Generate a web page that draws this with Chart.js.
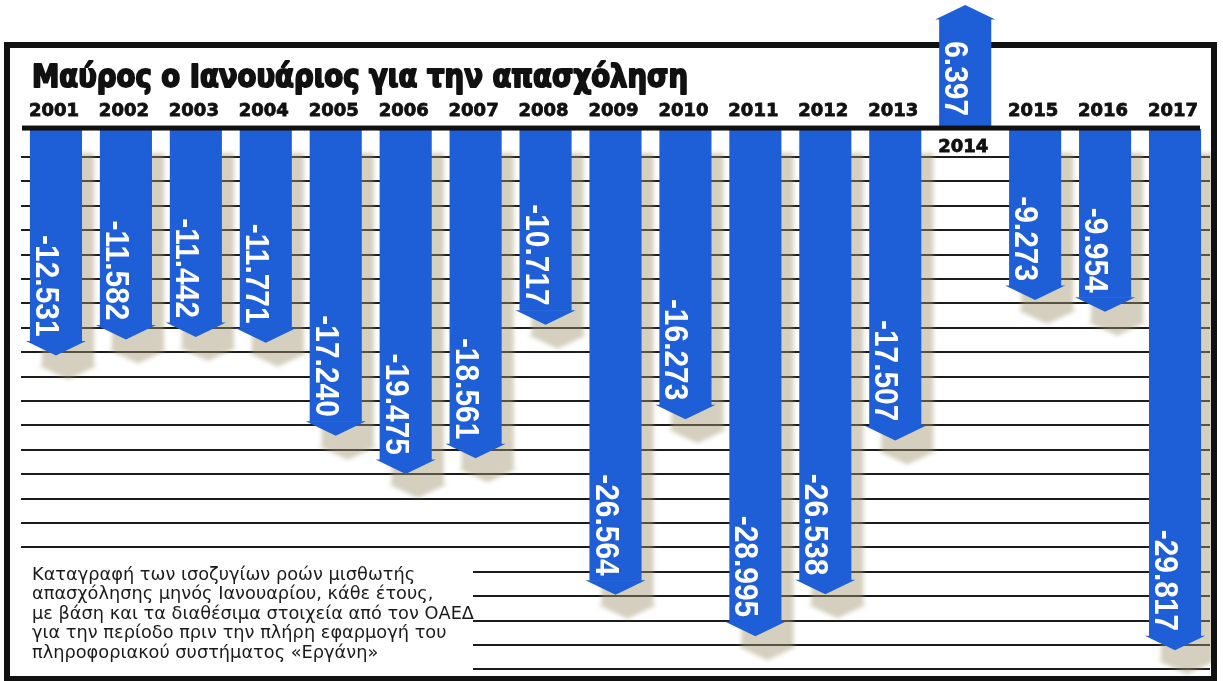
<!DOCTYPE html>
<html lang="el">
<head>
<meta charset="utf-8">
<title>Μαύρος ο Ιανουάριος για την απασχόληση</title>
<script src="https://cdn.jsdelivr.net/npm/chart.js@4.4.1/dist/chart.umd.min.js"></script>
<style>
  html, body { margin: 0; padding: 0; background: #fff; }
  #wrap { width: 1223px; height: 681px; position: relative; }
</style>
</head>
<body>
<div id="wrap"><canvas id="jobsChart"></canvas></div>
<script>
// ισοζύγιο ροών μισθωτής απασχόλησης Ιανουαρίου (χιλιάδες)
const years = ['2001', '2002', '2003', '2004', '2005', '2006', '2007', '2008', '2009',
               '2010', '2011', '2012', '2013', '2014', '2015', '2016', '2017'];
const balances = [-12.531, -11.582, -11.442, -11.771, -17.240, -19.475, -18.561, -10.717, -26.564,
                  -16.273, -28.995, -26.538, -17.507, 6.397, -9.273, -9.954, -29.817];

const titleText = 'Μαύρος ο Ιανουάριος για την απασχόληση';
const noteLines = [
    'Καταγραφή των ισοζυγίων ροών μισθωτής',
    'απασχόλησης μηνός Ιανουαρίου, κάθε έτους,',
    'με βάση και τα διαθέσιμα στοιχεία από τον ΟΑΕΔ',
    'για την περίοδο πριν την πλήρη εφαρμογή του',
    'πληροφοριακού συστήματος «Εργάνη»'
];

const BLUE = '#1e5fd8';
const HEAD_LEN = 14;
const HEAD_FLARE = 4;
const Y_MIN = -31.92;
const Y_MAX = 7.28;

// διακοσμητικές οριζόντιες γραμμές του φόντου
const RULE_FIRST = -1.70;
const RULE_STEP = 1.432;
const RULE_COUNT = 22;
const ruleValues = [0];
for (let k = 0; k < RULE_COUNT; k++) {
    ruleValues.push(RULE_FIRST - k * RULE_STEP);
}

function arrowPath(ctx, bar, dx, dy) {
    const half = bar.width / 2;
    const dir = bar.y > bar.base ? 1 : -1;
    const x = bar.x + dx;
    ctx.beginPath();
    ctx.moveTo(x - half, bar.base + dy);
    ctx.lineTo(x - half, bar.y + dy);
    ctx.lineTo(x - half - HEAD_FLARE, bar.y + dy);
    ctx.lineTo(x, bar.y + dir * HEAD_LEN + dy);
    ctx.lineTo(x + half + HEAD_FLARE, bar.y + dy);
    ctx.lineTo(x + half, bar.y + dy);
    ctx.lineTo(x + half, bar.base + dy);
    ctx.closePath();
}

const arrowPlugin = {
    id: 'arrows',
    beforeDatasetsDraw(chart) {
        const ctx = chart.ctx;
        const bars = chart.getDatasetMeta(0).data;
        const zeroY = chart.scales.y.getPixelForValue(0);

        // λευκό φόντο κάτω από το σημείωμα
        ctx.save();
        ctx.fillStyle = '#fff';
        ctx.fillRect(18, 558, 455, 116);
        ctx.restore();

        // σκιές των βελών
        ctx.save();
        ctx.beginPath();
        ctx.rect(0, zeroY + 3, chart.width, chart.height);
        ctx.clip();
        ctx.fillStyle = 'rgba(160, 148, 110, 0.45)';
        ctx.filter = 'blur(2px)';
        bars.forEach((bar, i) => {
            if (balances[i] >= 0) return;
            arrowPath(ctx, bar, 12, 24);
            ctx.fill();
        });
        ctx.restore();

        // πλαίσιο
        ctx.save();
        ctx.strokeStyle = '#111';
        ctx.lineWidth = 6;
        ctx.strokeRect(7, 45, 1207, 634);
        ctx.restore();
    },
    afterDatasetsDraw(chart) {
        const ctx = chart.ctx;
        const bars = chart.getDatasetMeta(0).data;
        const zeroY = chart.scales.y.getPixelForValue(0);

        // μύτες βελών
        ctx.save();
        ctx.fillStyle = BLUE;
        bars.forEach(bar => {
            const half = bar.width / 2;
            const dir = bar.y > bar.base ? 1 : -1;
            ctx.beginPath();
            ctx.moveTo(bar.x - half - HEAD_FLARE, bar.y - dir * 0.5);
            ctx.lineTo(bar.x + half + HEAD_FLARE, bar.y - dir * 0.5);
            ctx.lineTo(bar.x, bar.y + dir * HEAD_LEN);
            ctx.closePath();
            ctx.fill();
        });
        ctx.restore();

        // γραμμή μηδέν
        ctx.save();
        ctx.fillStyle = '#111';
        ctx.fillRect(22, zeroY - 2.5, 1178, 5);
        ctx.restore();

        // τιμές μέσα στα βέλη
        ctx.save();
        ctx.font = 'bold 34px "Liberation Sans", Arial, sans-serif';
        ctx.fillStyle = '#fff';
        ctx.textAlign = 'right';
        ctx.textBaseline = 'alphabetic';
        bars.forEach((bar, i) => {
            const v = balances[i];
            const end = v < 0 ? bar.y - 5 : bar.base - 11;
            ctx.save();
            ctx.translate(bar.x - 20, end);
            ctx.rotate(Math.PI / 2);
            ctx.scale(0.88, 1);
            ctx.fillText(v.toFixed(3), 0, 0);
            ctx.restore();
        });
        ctx.restore();

        // έτη
        ctx.save();
        ctx.font = 'bold 18px "DejaVu Sans", sans-serif';
        ctx.fillStyle = '#111';
        ctx.strokeStyle = '#111';
        ctx.lineWidth = 0.8;
        ctx.textAlign = 'center';
        ctx.textBaseline = 'alphabetic';
        bars.forEach((bar, i) => {
            const y = balances[i] >= 0 ? 152 : 116;
            ctx.fillText(years[i], bar.x - 2, y);
            ctx.strokeText(years[i], bar.x - 2, y);
        });
        ctx.restore();

        // τίτλος
        ctx.save();
        ctx.font = 'bold 31px "DejaVu Sans", sans-serif';
        ctx.fillStyle = '#111';
        ctx.strokeStyle = '#111';
        ctx.lineWidth = 2;
        ctx.lineJoin = 'round';
        ctx.textAlign = 'left';
        ctx.fillText(titleText, 32, 87, 656);
        ctx.strokeText(titleText, 32, 87, 656);
        ctx.restore();

        // σημείωμα
        ctx.save();
        ctx.font = '17px "DejaVu Sans", sans-serif';
        ctx.fillStyle = '#1a1a1a';
        const sx = 442 / ctx.measureText(noteLines[2]).width;
        noteLines.forEach((line, i) => {
            ctx.save();
            ctx.translate(32, 580 + i * 19.4);
            ctx.scale(sx, 1);
            ctx.fillText(line, 0, 0);
            ctx.restore();
        });
        ctx.restore();
    }
};

const ctx = document.getElementById('jobsChart').getContext('2d');

const chart = new Chart(ctx, {
    type: 'bar',
    data: {
        labels: years,
        datasets: [{
            label: 'Ισοζύγιο Ιανουαρίου',
            data: balances,
            backgroundColor: BLUE,
            borderWidth: 0,
            barPercentage: 0.745,
            categoryPercentage: 1.0
        }]
    },
    options: {
        responsive: true,
        maintainAspectRatio: false,
        animation: false,
        layout: {
            padding: { left: 21, right: 13, top: 4, bottom: 9 }
        },
        plugins: {
            legend: { display: false },
            tooltip: { enabled: false }
        },
        scales: {
            x: { display: false },
            y: {
                min: Y_MIN,
                max: Y_MAX,
                afterBuildTicks: axis => {
                    axis.ticks = ruleValues.map(v => ({ value: v }));
                },
                afterFit: axis => {
                    axis.width = 0;
                },
                ticks: { display: false },
                border: { display: false },
                grid: {
                    color: c => (c.tick && c.tick.value === 0) ? 'rgba(0,0,0,0)' : '#1c1c1c',
                    lineWidth: 2,
                    drawTicks: false
                }
            }
        }
    },
    plugins: [arrowPlugin]
});
</script>
</body>
</html>
